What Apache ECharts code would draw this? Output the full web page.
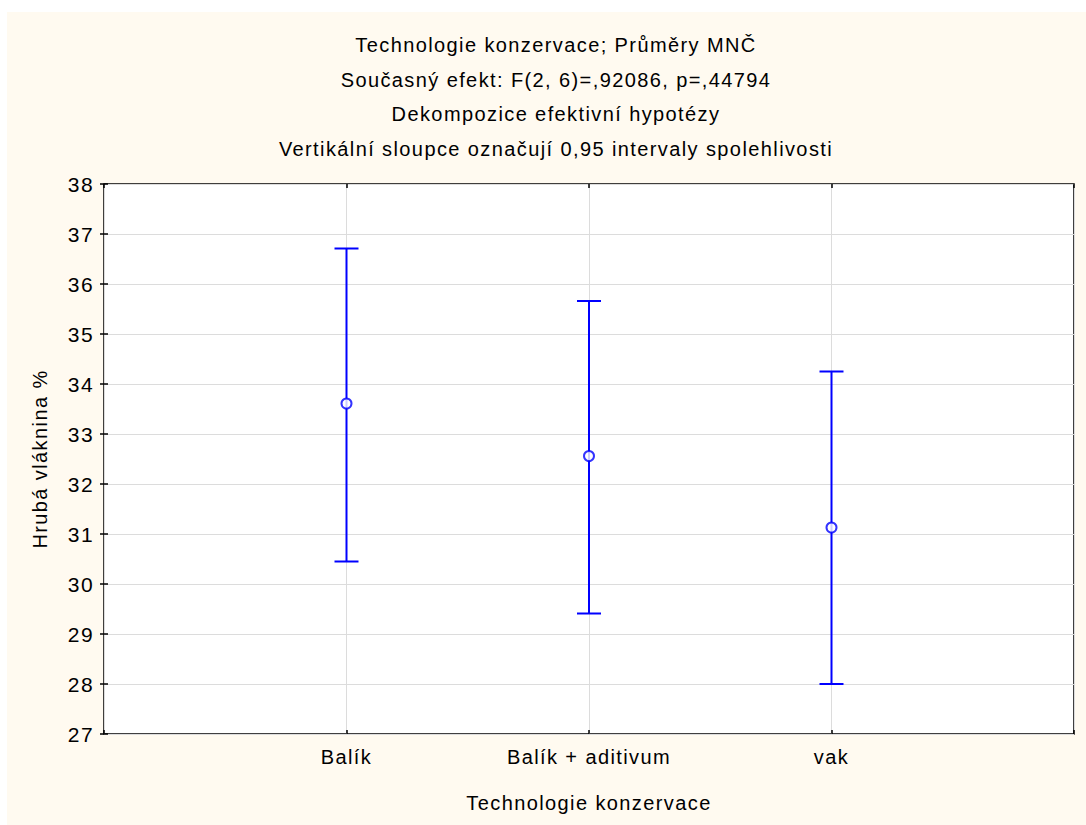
<!DOCTYPE html>
<html>
<head>
<meta charset="utf-8">
<script src="https://cdn.jsdelivr.net/npm/echarts@6/dist/echarts.min.js"></script>
<style>
  html, body { margin: 0; padding: 0; background: #ffffff; }
  #chart { width: 1086px; height: 825px; }
  /* the chart's lettering is set slightly loose */
  #chart svg text { letter-spacing: 1.4px; }
</style>
</head>
<body>
<div id="chart"></div>
<script>
// Category names and group statistics (means with 95% confidence limits)
const categories = ['Balík', 'Balík + aditivum', 'vak'];
const means = [33.61, 32.56, 31.13];
const lowerCI = [30.45, 29.41, 28.00];
const upperCI = [36.71, 35.66, 34.25];
const yTicks = [27, 28, 29, 30, 31, 32, 33, 34, 35, 36, 37, 38];

const titleLines = [
  'Technologie konzervace; Průměry MNČ',
  'Současný efekt: F(2, 6)=,92086, p=,44794',
  'Dekompozice efektivní hypotézy',
  'Vertikální sloupce označují 0,95 intervaly spolehlivosti'
];

const FONT = '"Liberation Sans", Arial, sans-serif';
const FS = 20;
const BLUE = '#0000ff';

const chart = echarts.init(document.getElementById('chart'), null, { renderer: 'svg' });

// x positions: categories sit at 1..3 on a 0..4 scale
const xPos = categories.map((_, i) => i + 1);
const meanData = xPos.map((x, i) => [x, means[i]]);
const ciData = xPos.map((x, i) => [x, lowerCI[i], upperCI[i]]);

const titleGraphics = titleLines.map((t, i) => ({
  type: 'text',
  z: 10,
  style: {
    x: 556, y: 45 + i * 34.5,
    text: t,
    align: 'center', verticalAlign: 'middle',
    font: FS + 'px ' + FONT,
    fill: '#000'
  }
}));

const tickStyle = { show: true, inside: true, length: 4, lineStyle: { color: '#000', width: 1.5 } };

const option = {
  animation: false,
  backgroundColor: 'transparent',
  graphic: [
    { type: 'rect', z: -10, shape: { x: 7, y: 12, width: 1079, height: 813 }, style: { fill: '#fffaf0' } }
  ].concat(titleGraphics),
  grid: { left: 104, right: 12, top: 184, bottom: 91, show: true, backgroundColor: '#ffffff', borderColor: '#000', borderWidth: 1.5 },
  xAxis: [
    {
      type: 'value', min: 0, max: 4, interval: 1, position: 'bottom',
      name: 'Technologie konzervace', nameLocation: 'middle', nameGap: 59,
      nameTextStyle: { fontFamily: FONT, fontSize: FS, color: '#000' },
      axisLine: { show: false },
      axisTick: tickStyle,
      axisLabel: {
        fontFamily: FONT, fontSize: FS, color: '#000', margin: 13,
        formatter: v => (v >= 1 && v <= categories.length) ? categories[v - 1] : ''
      },
      splitLine: { show: true, lineStyle: { color: '#dcdcdc', width: 1 } }
    },
    {
      type: 'value', min: 0, max: 4, interval: 1, position: 'top',
      axisLine: { show: false },
      axisTick: tickStyle,
      axisLabel: { show: false },
      splitLine: { show: false }
    }
  ],
  yAxis: [
    {
      type: 'value', min: yTicks[0], max: yTicks[yTicks.length - 1], interval: 1, position: 'left',
      name: 'Hrubá vláknina %', nameLocation: 'middle', nameGap: 54, nameRotate: 90,
      nameTextStyle: { fontFamily: FONT, fontSize: FS, color: '#000' },
      axisLine: { show: false },
      axisTick: tickStyle,
      axisLabel: { fontFamily: FONT, fontSize: FS + 1, color: '#000', margin: 10 },
      splitLine: { show: true, lineStyle: { color: '#dcdcdc', width: 1 } }
    },
    {
      type: 'value', min: yTicks[0], max: yTicks[yTicks.length - 1], interval: 1, position: 'right',
      axisLine: { show: false },
      axisTick: tickStyle,
      axisLabel: { show: false },
      splitLine: { show: false }
    }
  ],
  series: [
    {
      type: 'custom',
      xAxisIndex: 0, yAxisIndex: 0,
      data: ciData,
      encode: { x: 0, y: [1, 2] },
      renderItem: function (params, api) {
        const x = api.value(0);
        const lo = api.coord([x, api.value(1)]);
        const hi = api.coord([x, api.value(2)]);
        const half = 12;
        const style = { stroke: BLUE, lineWidth: 2 };
        return {
          type: 'group',
          children: [
            { type: 'line', shape: { x1: lo[0], y1: lo[1], x2: hi[0], y2: hi[1] }, style: style },
            { type: 'line', shape: { x1: hi[0] - half, y1: hi[1], x2: hi[0] + half, y2: hi[1] }, style: style },
            { type: 'line', shape: { x1: lo[0] - half, y1: lo[1], x2: lo[0] + half, y2: lo[1] }, style: style }
          ]
        };
      },
      z: 2
    },
    {
      type: 'scatter',
      xAxisIndex: 0, yAxisIndex: 0,
      data: meanData,
      symbol: 'circle',
      symbolSize: 10,
      itemStyle: { color: '#ffffff', borderColor: BLUE, borderWidth: 2 },
      z: 3
    }
  ]
};

chart.setOption(option);
</script>
</body>
</html>
